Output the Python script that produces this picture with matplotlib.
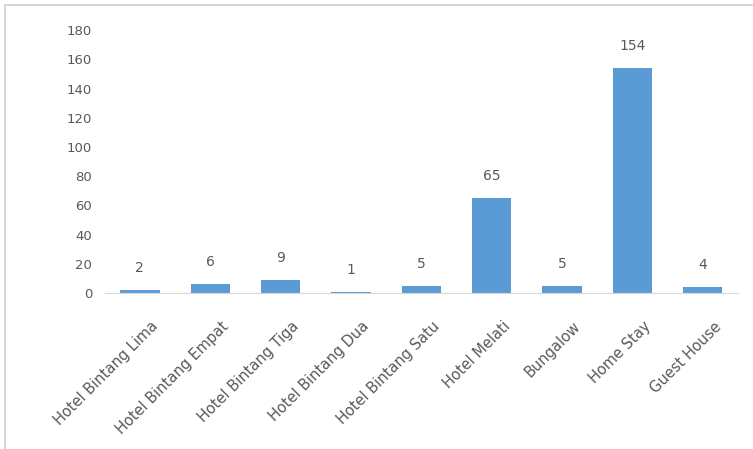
import matplotlib
matplotlib.use("Agg")
import matplotlib.pyplot as plt
from matplotlib.patches import Rectangle
from matplotlib.transforms import ScaledTranslation

categories = ["Hotel Bintang Lima", "Hotel Bintang Empat", "Hotel Bintang Tiga",
              "Hotel Bintang Dua", "Hotel Bintang Satu", "Hotel Melati",
              "Bungalow", "Home Stay", "Guest House"]
values = [2, 6, 9, 1, 5, 65, 5, 154, 4]
yticks = [0, 20, 40, 60, 80, 100, 120, 140, 160, 180]

fig = plt.figure(figsize=(7.53, 4.49), dpi=100)
ax = fig.add_axes([0.139, 0.347, 0.841, 0.586])

x = list(range(len(categories)))
ax.bar(x, values, width=0.56, color="#5B9BD5")
for xi, v in zip(x, values):
    ax.annotate(str(v), (xi, v), xytext=(0, 16), textcoords="offset points",
                ha="center", va="center", fontsize=10, color="#595959")

ax.set_xlim(-0.5, len(categories) - 0.5)
ax.set_ylim(0, 180)
ax.set_yticks(yticks)
ax.set_xticks(x)
ax.set_xticklabels([])
off = ScaledTranslation(16 / 100, -31 / 100, fig.dpi_scale_trans)
tr = ax.get_xaxis_transform() + off
for xi, cat in zip(x, categories):
    ax.text(xi, 0, cat, transform=tr, rotation=45, ha="right", va="center",
            rotation_mode="anchor", fontsize=10.5, color="#595959")
ax.tick_params(axis="y", length=0, labelsize=9.5, labelcolor="#595959", pad=9)
ax.tick_params(axis="x", length=0, pad=0)
for s in ["top", "right", "left"]:
    ax.spines[s].set_visible(False)
ax.spines["bottom"].set_color("#D9D9D9")

fig.patches.append(Rectangle((0.007, -0.1), 1.2, 1.089, transform=fig.transFigure,
                             fill=False, edgecolor="#D0D0D0", linewidth=1.2))

fig.savefig("out.png", dpi=100)
